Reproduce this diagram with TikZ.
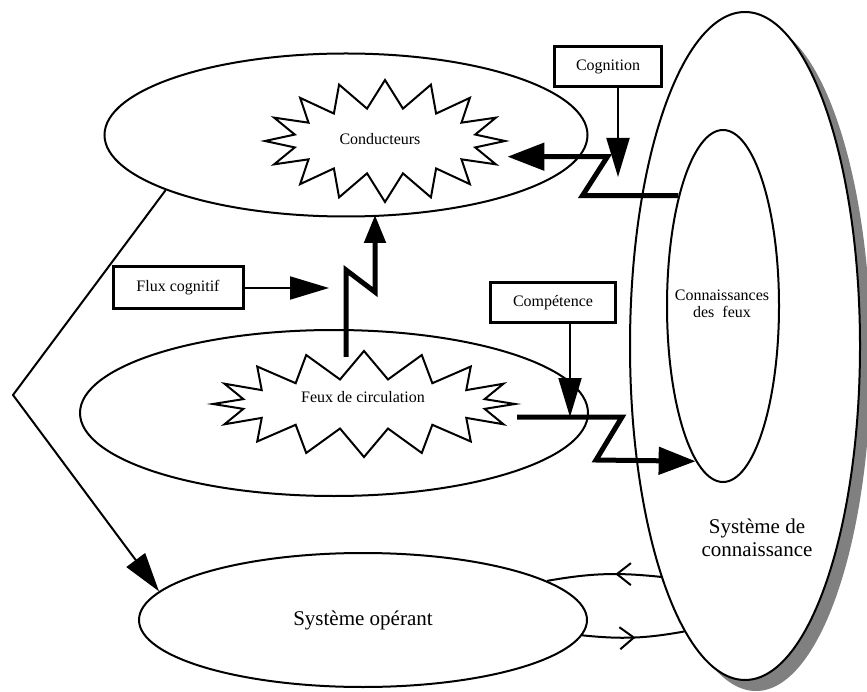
\documentclass[tikz,border=0pt]{standalone}
\usepackage{fontspec}
\setmainfont{Liberation Serif}
\usetikzlibrary{shapes.geometric,shapes.symbols,arrows.meta,decorations.markings}

\begin{document}
\begin{tikzpicture}[x=1pt, y=-1pt, font=\fontsize{16}{17}\selectfont,
    bulle/.style={ellipse, draw, line width=2pt, inner sep=0pt},
    etoile/.style={starburst, draw, fill=white, line width=2pt, starburst points=16,
        starburst point height=28pt, random starburst=0, inner sep=0pt},
    boite/.style={draw, line width=3pt, inner sep=0pt},
    fleche/.style={line width=2pt, -{Triangle[length=39pt,width=23pt]}},
    zflux/.style={line width=5pt, -{Triangle[length=37pt,width=27pt]}},
    retour/.style={line width=2pt, postaction={decorate}}]
    \useasboundingbox (0,0) rectangle (867,692);

    % --- SYSTEME DE CONNAISSANCE ---
    \fill[gray] (756,357) ellipse [x radius=115, y radius=334]; % ombre
    \node[bulle, fill=white, minimum width=230pt, minimum height=668pt] (sys) at (745,346) {};
    \node[font=\fontsize{21}{23}\selectfont, align=center] (systxt) at (757,538) {Système de\\connaissance};
    \node[bulle, minimum width=112pt, minimum height=352pt] (feuxcon) at (723,306) {};
    \node[align=center] (feuxcontxt) at (722,304) {Connaissances\\des\ \ feux};

    % --- CONDUCTEURS ---
    \node[bulle, minimum width=483pt, minimum height=163pt] (cond) at (346,135) {};
    \node[etoile, minimum width=240pt, minimum height=122pt] (condstar) at (385,141) {};
    \node (condtxt) at (380,139) {Conducteurs};

    % --- FEUX DE CIRCULATION ---
    \node[bulle, minimum width=508pt, minimum height=166pt] (feux) at (334,413) {};
    \node[etoile, minimum width=302pt, minimum height=106pt] (feuxstar) at (364,404) {};
    \node (feuxtxt) at (363,397) {Feux de circulation};

    % --- SYSTEME OPERANT ---
    \node[bulle, minimum width=448pt, minimum height=134pt, font=\fontsize{21}{23}\selectfont] (oper) at (363,620) {Système opérant};

    % Boites
    \node[boite, minimum width=107pt, minimum height=40pt] (cog) at (608,67) {Cognition};
    \node[boite, minimum width=125pt, minimum height=40pt] (comp) at (553,303) {Compétence};
    \node[boite, minimum width=130pt, minimum height=42pt] (fcog) at (178,288) {Flux cognitif};

    % Bouts libres des fleches
    \coordinate (cogbout) at (618,177);
    \coordinate (compbout) at (570,417);
    \coordinate (fcogbout) at (329,288);
    \coordinate (z2pied) at (346,357);
    \coordinate (z3pied) at (517,417);
    \coordinate (coude) at (13,395);

    % Fleches fines
    \draw[fleche] (cog.south -| cogbout) -- (cogbout);
    \draw[fleche] (comp.south -| compbout) -- (compbout);
    \draw[fleche] (fcog.east) -- (fcogbout);
    \draw[fleche] (cond.197) -- (coude) -- (oper.172);

    % Flux en Z
    \draw[zflux] (feuxcon.112) -- ++(-96,0) -- ++(25,-39) -- ++(-100,0);
    \draw[zflux, -{Triangle[length=28pt,width=21pt]}] (z2pied) -- ++(0,-87) -- ++(29,22) -- ++(0,-77);
    \draw[zflux] (z3pied) -- ++(105,0) -- ++(-26,43) -- (feuxcon.260);

    % Boucle operant / connaissance
    \draw[retour, decoration={markings, mark=at position 0.4 with {\arrow{Straight Barb[length=14pt,width=22pt]}}}]
        (sys.250) to[bend right=8] (oper.12);
    \draw[retour, decoration={markings, mark=at position 0.52 with {\arrow{Straight Barb[length=14pt,width=22pt]}}}]
        (oper.-4) to[bend right=8] (sys.258);
\end{tikzpicture}
\end{document}
